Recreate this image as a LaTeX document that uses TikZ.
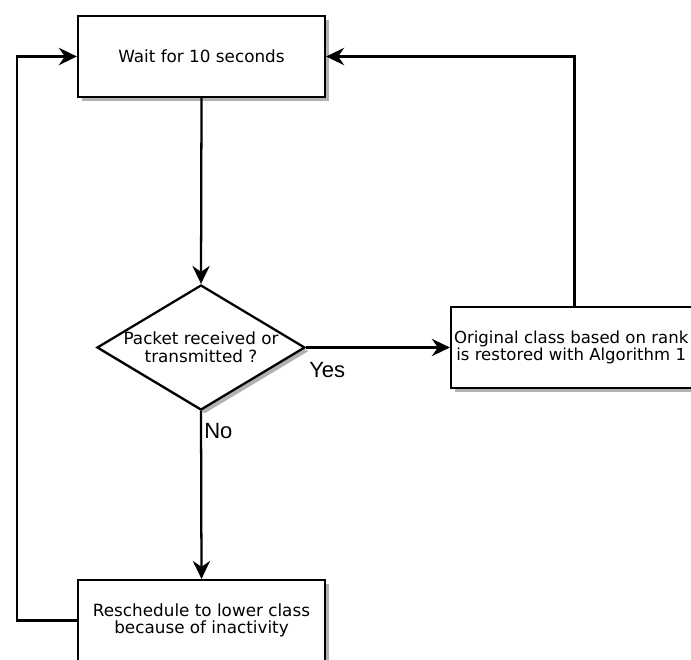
\documentclass[tikz,border=0pt]{standalone}
\usepackage{fontspec}
\newfontfamily\boxfont{DejaVu Sans}
\newfontfamily\lblfont{Liberation Sans}
\usetikzlibrary{arrows.meta,shadows,shapes.geometric}
\begin{document}
\begin{tikzpicture}[x=0.75pt,y=-0.75pt,
  shadowed/.style={drop shadow={shadow xshift=2.8pt,shadow yshift=-2.8pt,fill=black!30,opacity=1}},
  boxstyle/.style={draw=black,line width=1.7pt,fill=white,shadowed,
    minimum width=185.25pt,minimum height=60.75pt,inner sep=0pt,
    align=center,font=\boxfont\fontsize{12.6pt}{13pt}\selectfont},
  decision/.style={diamond,draw=black,line width=1.7pt,fill=white,shadowed,
    minimum width=156pt,minimum height=93.75pt,inner sep=0pt},
  conn/.style={line width=1.7pt,-{Stealth[length=13.5pt,width=13pt,inset=4.5pt]}},
  answer/.style={font=\lblfont\fontsize{16.5pt}{18pt}\selectfont,inner sep=0pt}]
\useasboundingbox (0,0) rectangle (691,659);
\clip (0,0) rectangle (691,659);
\node[boxstyle] (b1) at (201.5,56.5) {Wait for 10 seconds};
\node[decision,label={[align=center,font=\boxfont\fontsize{12.6pt}{13.5pt}\selectfont]center:Packet received or\\transmitted ?}] (d) at (201,347.5) {};
\node[boxstyle,label={[align=center,xshift=-2.5pt,font=\boxfont\fontsize{12.4pt}{13pt}\selectfont]center:Original class based on rank\\is restored with Algorithm 1}] (b2) at (574.5,347.5) {};
\node[boxstyle] (b3) at (201.5,620.5) {Reschedule to lower class\\because of inactivity};
\coordinate (lft) at (17,620.5);
\draw[conn] (b1.south) -- (d.north);
\draw[conn] (d.east) -- (b2.west);
\draw[conn] (d.south) -- (b3.north);
\draw[conn] (b3.west) -- (lft) |- (b1.west);
\draw[conn] (b2.north) |- (b1.east);
\node[answer,anchor=base west] (yes) at (309,377) {Yes};
\node[answer,anchor=base west] (no) at (204,438) {No};
\end{tikzpicture}
\end{document}
